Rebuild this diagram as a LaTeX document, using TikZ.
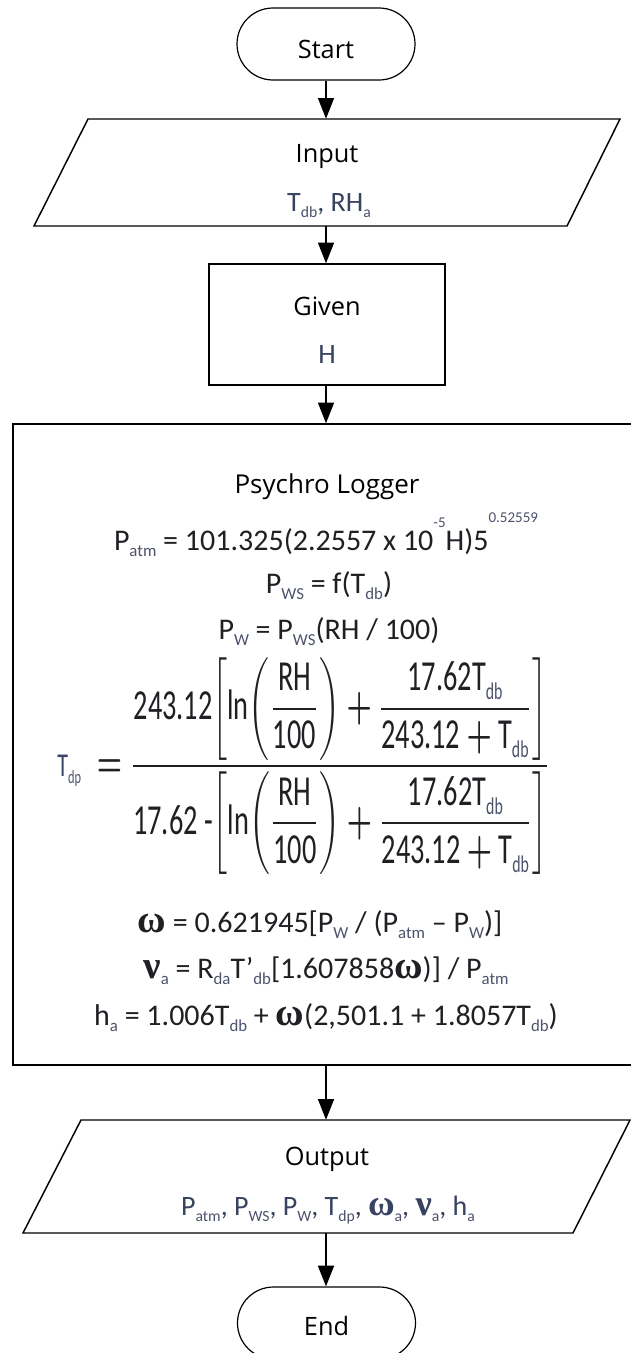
\documentclass[tikz,border=0pt]{standalone}
\usepackage{fontspec}
\usepackage{amsmath}
\usepackage{graphicx}
\usetikzlibrary{arrows.meta,shapes.misc}
\setmainfont{Open Sans}
\newfontfamily\fml{Carlito}
\newfontfamily\grk{Liberation Serif}
\definecolor{fmc}{rgb}{0.12,0.12,0.14}
\definecolor{subc}{rgb}{0.30,0.32,0.42}
\definecolor{varc}{rgb}{0.22,0.26,0.38}
\newcommand{\sbs}[1]{\raisebox{-0.45ex}{\scalebox{0.56}{\textcolor{subc}{#1}}}}
\newcommand{\sps}[2]{\raisebox{#1}{\scalebox{0.5}{\textcolor{subc}{#2}}}}
\newcommand{\om}{{\grk\bfseries\scalebox{1.3}{ω}}}
\newcommand{\vnu}{{\grk\bfseries\scalebox{1.3}{ν}}}
\newcommand{\tx}[1]{\text{\fml #1}}
\newcommand{\bp}{\mathbin{\boldsymbol{+}}}
\begin{document}
\begin{tikzpicture}[x=0.75pt,y=-0.75pt,
  shp/.style={draw=black, line width=1.1pt},
  term/.style={shp, line width=0.9pt, rounded rectangle, minimum width=133.5pt, minimum height=54pt, inner sep=0pt},
  arr/.style={-{Triangle[length=15.5pt,width=12pt]}, line width=1.1pt},
  hd/.style={font=\fontsize{19}{22}\selectfont, anchor=base, inner sep=0pt, text=black},
  fm/.style={font=\fml\fontsize{22.5}{27}\selectfont, anchor=base, inner sep=0pt, text=fmc},
  vr/.style={font=\fml\fontsize{21}{25}\selectfont, anchor=base, inner sep=0pt, text=varc},
  anc/.style={inner sep=0pt, minimum width=400pt}]
\useasboundingbox (0,0) rectangle (631,1353);
\clip (0,0) rectangle (631,1353);
\fill[white] (0,0) rectangle (631,1353);

% shapes
\node[term] (start) at (326,44) {};
\node[anc, minimum height=80.25pt] (in) at (326,172.5) {};
\draw[shp] (88,119) -- (620,119) -- (567,226) -- (34,226) -- cycle;
\node[shp, minimum width=177pt, minimum height=90.75pt, inner sep=0pt] (giv) at (327,324.5) {};
\node[shp, minimum width=465.75pt, minimum height=480.75pt, inner sep=0pt] (box) at (323.5,744.5) {};
\node[anc, minimum height=84.75pt] (out) at (326,1176.5) {};
\draw[shp] (81,1120) -- (630,1120) -- (573,1233) -- (23,1233) -- cycle;
\node[term] (end) at (326.5,1323) {};

% connectors
\draw[arr] (start.south) -- (start.south |- in.north);
\draw[arr] (in.south -| start.south) -- (giv.north -| start.south);
\draw[arr] (giv.south -| start.south) -- (box.north -| start.south);
\draw[arr] (box.south -| start.south) -- (out.north -| start.south);
\draw[arr] (out.south -| start.south) -- (end.north -| start.south);

% texts
\node[hd] (tstart) at (326,58) {Start};
\node[hd] (tin) at (327,162) {Input};
\node[vr] (tinv) at (329,211) {T\sbs{db}, RH\sbs{a}};
\node[hd] (tgiv) at (327,315) {Given};
\node[vr] (tgivh) at (327,363) {H};
\node[hd, font=\fontsize{19.5}{23}\selectfont] (tpl) at (327,493) {Psychro Logger};
\node[fm] (f1) at (326,550) {P\sbs{atm} = 101.325(2.2557 x 10\sps{1.6ex}{-5}H)5\sps{1.9ex}{0.52559}};
\node[fm] (f2) at (329,593) {P\sbs{WS} = f(T\sbs{db})};
\node[fm] (f3) at (329,639) {P\sbs{W} = P\sbs{WS}(RH / 100)};
\node[inner sep=0pt, text=fmc] (f4) at (304,766) {\resizebox*{370pt}{163pt}{$\displaystyle
  \tx{\scalebox{0.78}{\textcolor{varc}{T}\sbs{dp}}}\; \boldsymbol{=} \frac{\tx{243.12}\!\left[\tx{ln}\!\left(\dfrac{\tx{RH}}{\tx{100}}\right) \bp \dfrac{\tx{17.62T\sbs{db}}}{\tx{243.12} \bp \tx{T\sbs{db}}}\right]}{\tx{17.62 -}\!\left[\tx{ln}\!\left(\dfrac{\tx{RH}}{\tx{100}}\right) \bp \dfrac{\tx{17.62T\sbs{db}}}{\tx{243.12} \bp \tx{T\sbs{db}}}\right]}$}};
\node[fm] (f5) at (320,932) {\om{} = 0.621945[P\sbs{W} / (P\sbs{atm} – P\sbs{W})]};
\node[fm] (f6) at (326,978) {\vnu\sbs{a} = R\sbs{da}T’\sbs{db}[1.607858\om)] / P\sbs{atm}};
\node[fm] (f7) at (326,1025) {h\sbs{a} = 1.006T\sbs{db} + \om(2,501.1 + 1.8057T\sbs{db})};
\node[hd] (tout) at (327,1165) {Output};
\node[vr] (toutv) at (328,1215) {P\sbs{atm}, P\sbs{WS}, P\sbs{W}, T\sbs{dp}, \om\sbs{a}, \vnu\sbs{a}, h\sbs{a}};
\node[hd] (tend) at (326.5,1335) {End};
\end{tikzpicture}
\end{document}
